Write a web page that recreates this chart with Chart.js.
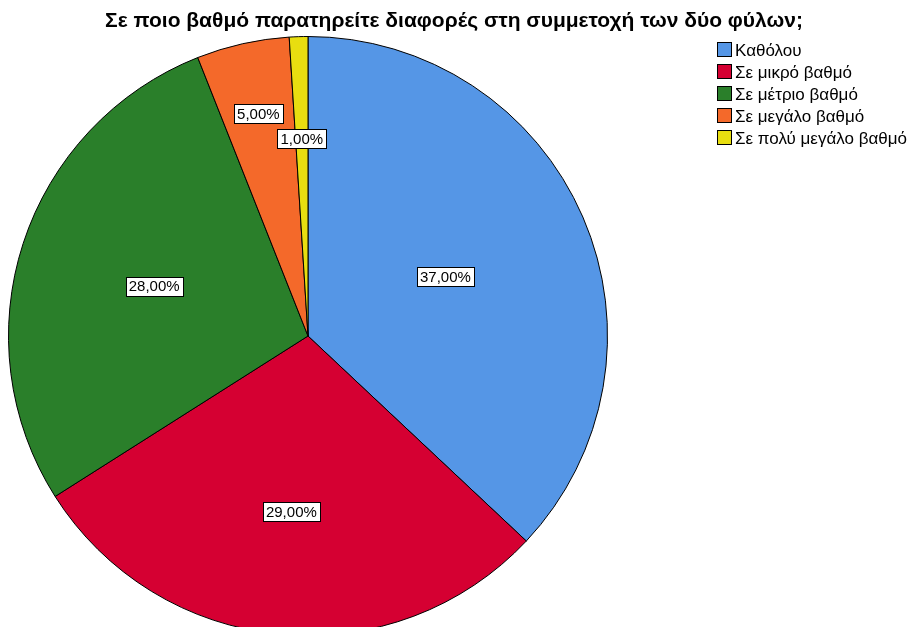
<!DOCTYPE html>
<html>
<head>
<meta charset="utf-8">
<script src="https://cdn.jsdelivr.net/npm/chart.js@4/dist/chart.umd.min.js"></script>
<style>
  html, body { margin: 0; padding: 0; background: #fff; overflow: hidden; }
  #wrap { position: relative; width: 911px; height: 700px; }
</style>
</head>
<body>
<div id="wrap"><canvas id="pieChart"></canvas></div>
<script>
const title = 'Σε ποιο βαθμό παρατηρείτε διαφορές στη συμμετοχή των δύο φύλων;';
const categories = ['Καθόλου', 'Σε μικρό βαθμό', 'Σε μέτριο βαθμό', 'Σε μεγάλο βαθμό', 'Σε πολύ μεγάλο βαθμό'];
const percents = [37, 29, 28, 5, 1];
const colors = ['#5596E6', '#D50032', '#2A7F2A', '#F4692A', '#E8DE10'];

const fontFamily = '"Liberation Sans", Arial, sans-serif';

// how far out (as fraction of radius) each value label sits
const labelRadius = [0.50, 0.59, 0.54, 0.76, 0.66];

const valueLabels = {
    id: 'valueLabels',
    afterDatasetsDraw(chart) {
        const {ctx} = chart;
        const meta = chart.getDatasetMeta(0);
        ctx.save();
        ctx.font = '15px ' + fontFamily;
        ctx.textAlign = 'center';
        ctx.textBaseline = 'middle';
        meta.data.forEach((arc, i) => {
            const mid = (arc.startAngle + arc.endAngle) / 2;
            const r = arc.outerRadius * labelRadius[i];
            const x = arc.x + Math.cos(mid) * r;
            const y = arc.y + Math.sin(mid) * r;
            const text = percents[i].toFixed(2).replace('.', ',') + '%';
            const w = Math.round(ctx.measureText(text).width + 6);
            const h = 19;
            const bx = Math.round(x - w / 2) + 0.5, by = Math.round(y - h / 2) + 0.5;
            ctx.fillStyle = '#fff';
            ctx.fillRect(bx, by, w, h);
            ctx.strokeStyle = '#000';
            ctx.lineWidth = 1;
            ctx.strokeRect(bx, by, w, h);
            ctx.fillStyle = '#000';
            ctx.fillText(text, x, y + 1);
        });
        ctx.restore();
    }
};

const titleAndLegend = {
    id: 'titleAndLegend',
    afterDraw(chart) {
        const {ctx} = chart;
        ctx.save();
        ctx.fillStyle = '#000';
        ctx.font = 'bold 21px ' + fontFamily;
        ctx.textAlign = 'center';
        ctx.textBaseline = 'middle';
        ctx.fillText(title, 454, 21);

        ctx.font = '17px ' + fontFamily;
        ctx.textAlign = 'left';
        categories.forEach((c, i) => {
            const y = 50 + i * 22;
            ctx.fillStyle = colors[i];
            ctx.fillRect(717.5, y - 7.5, 14, 14);
            ctx.strokeStyle = '#000';
            ctx.strokeRect(717.5, y - 7.5, 14, 14);
            ctx.fillStyle = '#000';
            ctx.fillText(c, 735, y + 1);
        });
        ctx.restore();
    }
};

new Chart(document.getElementById('pieChart'), {
    type: 'pie',
    data: {
        labels: categories,
        datasets: [{
            data: percents,
            backgroundColor: colors,
            borderColor: '#000',
            borderWidth: 1
        }]
    },
    options: {
        responsive: true,
        maintainAspectRatio: false,
        animation: false,
        layout: { padding: { left: 8, right: 303, top: 36, bottom: 64 } },
        plugins: {
            legend: { display: false },
            title: { display: false },
            tooltip: { enabled: false }
        }
    },
    plugins: [valueLabels, titleAndLegend]
});
</script>
</body>
</html>
